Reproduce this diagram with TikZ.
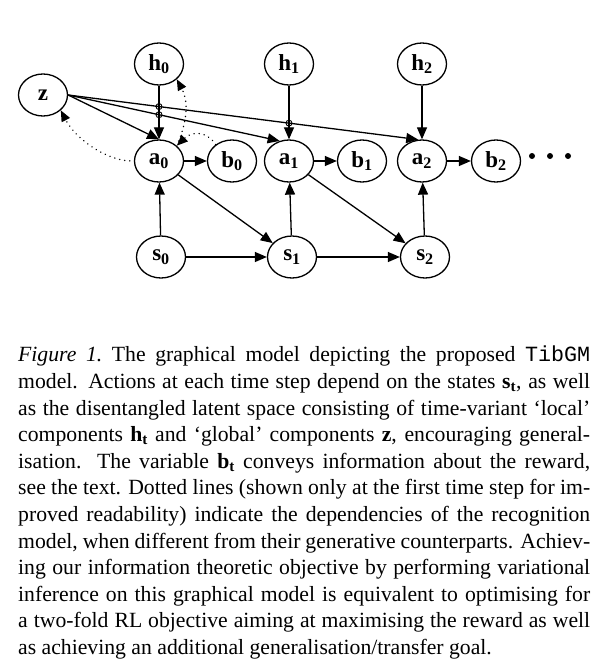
\documentclass[tikz,border=0pt]{standalone}
\usepackage{fontspec}
\setmainfont{Liberation Serif}
\setmonofont{Liberation Mono}
\usetikzlibrary{shapes.geometric,arrows.meta,intersections}

\tikzset{
	var/.style={draw, ellipse, line width=1.3pt, minimum width=49pt, minimum height=42pt, inner sep=0pt, font=\fontsize{23}{26}\selectfont\bfseries},
	dep/.style={line width=1.3pt, -{Triangle[length=12pt,width=10pt]}},
	recog/.style={line width=1.5pt, line cap=round, dash pattern=on 0.1pt off 5pt, -{Triangle[length=11pt,width=9pt]}},
	hop/.style={line width=0.9pt}
}

\begin{document}
\begin{tikzpicture}[x=1pt,y=-1pt]

\def\LAB#1#2{#1\textsubscript{#2}}
	\useasboundingbox (0,0) rectangle (607,666);

	% latent variables
	\node[var] (z) at (43,95) {z};
	\node[var] (h0) at (159,64) {\LAB{h}{0}};
	\node[var] (h1) at (289,64) {\LAB{h}{1}};
	\node[var] (h2) at (422,64) {\LAB{h}{2}};

	% actions and rewards
	\node[var] (a0) at (159,161) {\LAB{a}{0}};
	\node[var] (b0) at (232,161) {\LAB{b}{0}};
	\node[var] (a1) at (289,161) {\LAB{a}{1}};
	\node[var] (b1) at (362,161) {\LAB{b}{1}};
	\node[var] (a2) at (422,161) {\LAB{a}{2}};
	\node[var] (b2) at (496,161) {\LAB{b}{2}};

	% states
	\node[var] (s0) at (161,257) {\LAB{s}{0}};
	\node[var] (s1) at (292,257) {\LAB{s}{1}};
	\node[var] (s2) at (425,257) {\LAB{s}{2}};

	\fill (532,156) circle (3pt);
	\fill (550,156) circle (3pt);
	\fill (568,156) circle (3pt);

	% generative model
	\draw[dep] (z.east) -- (a0.north);
	\draw[dep, name path=za1] (z.east) -- (a1.115);
	\draw[dep, name path=za2] (z.east) -- (a2.100);
	\draw[dep, name path=ha0] (h0) -- (a0);
	\draw[dep, name path=ha1] (h1) -- (a1);
	\draw[dep] (h2) -- (a2);
	\draw[dep] (a0) -- (b0);
	\draw[dep] (a1) -- (b1);
	\draw[dep] (a2) -- (b2);
	\draw[dep] (s0) -- (a0);
	\draw[dep] (s1) -- (a1);
	\draw[dep] (s2) -- (a2);
	\draw[dep] (s0) -- (s1);
	\draw[dep] (s1) -- (s2);
	\draw[dep] (a0) -- (s1);
	\draw[dep] (a1) -- (s2);

	% crossings
	\path[name intersections={of=za1 and ha0, by=x1}];
	\path[name intersections={of=za2 and ha0, by=x2}];
	\path[name intersections={of=za2 and ha1, by=x3}];
	\draw[hop] (x1) circle (3pt);
	\draw[hop] (x2) circle (3pt);
	\draw[hop] (x3) circle (3pt);

	% recognition model
	\draw[recog, shorten <=4pt] (a0.west) .. controls (105,160) and (75,138) .. (z.south east);
	\draw[recog] (b0.135) .. controls (207,131) and (192,131) .. (a0.north east);
	\draw[recog, shorten <=5pt] (a0.north east) .. controls (188,118) and (188,100) .. (h0.south east);

	% caption
	\node[anchor=north west, text width=572pt, inner sep=0pt, align=justify, font=\fontsize{21.7}{26.6}\selectfont] (caption) at (18,346) {\textit{Figure 1.}\ The graphical model depicting the proposed \texttt{TibGM}\linebreak
model. Actions at each time step depend on the states \textbf{s}\textsubscript{\textbf{t}}, as well\linebreak
as the disentangled latent space consisting of time-variant `local'\linebreak
components \textbf{h}\textsubscript{\textbf{t}} and `global' components \textbf{z}, encouraging general-\linebreak
isation. The variable \textbf{b}\textsubscript{\textbf{t}} conveys information about the reward,\linebreak
see the text. Dotted lines (shown only at the first time step for im-\linebreak
proved readability) indicate the dependencies of the recognition\linebreak
model, when different from their generative counterparts. Achiev-\linebreak
ing our information theoretic objective by performing variational\linebreak
inference on this graphical model is equivalent to optimising for\linebreak
a two-fold RL objective aiming at maximising the reward as well\linebreak
as achieving an additional generalisation/transfer goal.};

\end{tikzpicture}
\end{document}
